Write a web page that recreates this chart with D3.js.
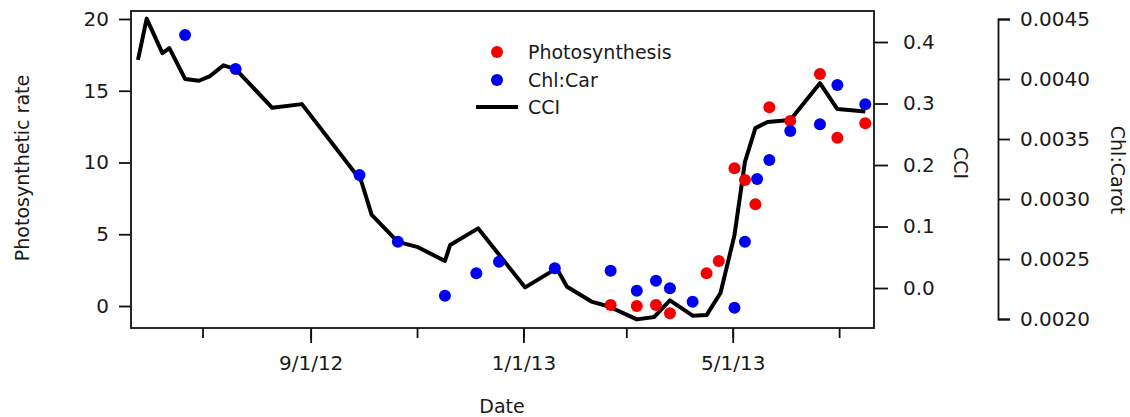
<!DOCTYPE html>
<html>
<head>
<meta charset="utf-8">
<script src="https://cdn.jsdelivr.net/npm/d3@7"></script>
<style>
  body { margin: 0; background: #fff; }
  svg text { font-family: "DejaVu Sans", sans-serif; fill: #1a1a1a; }
</style>
</head>
<body>
<div class="chart"></div>
<script>
'use strict';

// CCI (black line)
var cciDates = ['2012-05-25','2012-05-30','2012-06-08','2012-06-12','2012-06-21','2012-06-29',
  '2012-07-05','2012-07-13','2012-07-20','2012-08-10','2012-08-27','2012-09-30','2012-10-06',
  '2012-10-21','2012-11-01','2012-11-17','2012-11-20','2012-12-06','2013-01-02','2013-01-20',
  '2013-01-26','2013-02-09','2013-02-19','2013-03-07','2013-03-17','2013-03-26','2013-04-08',
  '2013-04-16','2013-04-24','2013-05-02','2013-05-08','2013-05-14','2013-05-21','2013-06-03',
  '2013-06-20','2013-06-30','2013-07-16'];
var cciValues = [0.371, 0.438, 0.382, 0.390, 0.340, 0.337,
  0.344, 0.362, 0.356, 0.293, 0.299, 0.174, 0.119,
  0.075, 0.067, 0.044, 0.070, 0.097, 0.001, 0.032,
  0.002, -0.022, -0.030, -0.051, -0.047, -0.020, -0.045,
  -0.044, -0.008, 0.086, 0.205, 0.260, 0.270, 0.273,
  0.333, 0.291, 0.287];

// Photosynthesis (red dots)
var photoDates = ['2013-02-20','2013-03-07','2013-03-18','2013-03-26','2013-04-16','2013-04-23',
  '2013-05-02','2013-05-08','2013-05-14','2013-05-22','2013-06-03','2013-06-20','2013-06-30','2013-07-16'];
var photoValues = [0.07, 0.0, 0.07, -0.51, 2.28, 3.14,
  9.6, 8.78, 7.09, 13.85, 12.9, 16.17, 11.73, 12.73];

// Chl:Car (blue dots)
var chlDates = ['2012-06-21','2012-07-20','2012-09-29','2012-10-21','2012-11-17','2012-12-05',
  '2012-12-18','2013-01-19','2013-02-20','2013-03-07','2013-03-18','2013-03-26','2013-04-08',
  '2013-05-02','2013-05-08','2013-05-15','2013-05-22','2013-06-03','2013-06-20','2013-06-30','2013-07-16'];
var chlValues = [0.004367, 0.004083, 0.003200, 0.002644, 0.002194, 0.002381,
  0.002478, 0.002423, 0.002403, 0.002236, 0.002319, 0.002256, 0.002144,
  0.002094, 0.002644, 0.003167, 0.003325, 0.003567, 0.003623, 0.003950, 0.003789];

var minorTicks = ['2012-07-01','2012-09-01','2012-11-01','2013-01-01','2013-03-01','2013-05-01','2013-07-01'];
var majorTicks = ['2012-09-01','2013-01-01','2013-05-01'];
var photoTicks = [0, 5, 10, 15, 20];
var cciTicks = [0.0, 0.1, 0.2, 0.3, 0.4];
var chlTicks = [0.0020, 0.0025, 0.0030, 0.0035, 0.0040, 0.0045];

var legendItems = ['Photosynthesis', 'Chl:Car', 'CCI'];

var parseDate = d3.timeParse('%Y-%m-%d');

var width = 1130, height = 417;
var plot = {x0: 131, x1: 874, y0: 11, y1: 328};

var svg = d3.select('.chart').append('svg')
  .attr('width', width)
  .attr('height', height);

var x = d3.scaleTime()
  .domain([new Date(2012, 4, 21), new Date(2013, 6, 21)])
  .range([plot.x0, plot.x1]);

var yPhoto = d3.scaleLinear().domain([-1.533, 20.557]).range([plot.y1, plot.y0]);
var yCci = d3.scaleLinear().domain([-0.065, 0.4504]).range([plot.y1, plot.y0]);
var yChl = d3.scaleLinear().domain([0.0020, 0.0045]).range([319, 19]);

var styleAxis = function(g) {
  g.selectAll('.tick line').attr('stroke', '#111').attr('stroke-width', 1.8);
  g.selectAll('.tick text').attr('font-size', 20).attr('fill', '#1a1a1a')
    .style('font-family', '"DejaVu Sans", sans-serif');
};

// bottom axis: minor then major ticks
svg.append('g')
  .attr('transform', 'translate(0,' + plot.y1 + ')')
  .call(d3.axisBottom(x).tickValues(minorTicks.map(parseDate)).tickSize(10).tickFormat(''))
  .call(function(g) { g.select('.domain').remove(); })
  .call(styleAxis);

svg.append('g')
  .attr('transform', 'translate(0,' + plot.y1 + ')')
  .call(d3.axisBottom(x).tickValues(majorTicks.map(parseDate)).tickSize(15).tickPadding(13)
    .tickFormat(d3.timeFormat('%-m/%-d/%y')))
  .call(function(g) { g.select('.domain').remove(); })
  .call(styleAxis);

// left axis
svg.append('g')
  .attr('transform', 'translate(' + plot.x0 + ',0)')
  .call(d3.axisLeft(yPhoto).tickValues(photoTicks).tickSize(12).tickPadding(10))
  .call(function(g) { g.select('.domain').remove(); })
  .call(styleAxis);

// CCI axis
svg.append('g')
  .attr('transform', 'translate(' + plot.x1 + ',0)')
  .call(d3.axisRight(yCci).tickValues(cciTicks).tickSize(14).tickPadding(15).tickFormat(d3.format('.1f')))
  .call(function(g) { g.select('.domain').remove(); })
  .call(styleAxis);

// Chl:Carot axis (free standing)
svg.append('g')
  .attr('transform', 'translate(998,0)')
  .call(d3.axisRight(yChl).tickValues(chlTicks).tickSize(12).tickPadding(10).tickFormat(d3.format('.4f')))
  .call(function(g) { g.select('.domain').attr('stroke', '#111').attr('stroke-width', 1.8); })
  .call(styleAxis);

// frame
svg.append('rect')
  .attr('x', plot.x0)
  .attr('y', plot.y0)
  .attr('width', plot.x1 - plot.x0)
  .attr('height', plot.y1 - plot.y0)
  .attr('fill', 'none')
  .attr('stroke', '#111')
  .attr('stroke-width', 1.8);

// CCI line
var cci = cciDates.map(function(d, i) { return {date: parseDate(d), value: cciValues[i]}; });
svg.append('path')
  .datum(cci)
  .attr('fill', 'none')
  .attr('stroke', '#000')
  .attr('stroke-width', 4)
  .attr('stroke-linejoin', 'round')
  .attr('d', d3.line()
    .x(function(d) { return x(d.date); })
    .y(function(d) { return yCci(d.value); }));

// photosynthesis dots
svg.append('g').selectAll('circle')
  .data(photoDates.map(function(d, i) { return {date: parseDate(d), value: photoValues[i]}; }))
  .join('circle')
    .attr('cx', function(d) { return x(d.date); })
    .attr('cy', function(d) { return yPhoto(d.value); })
    .attr('r', 6)
    .attr('fill', '#f50000');

// chl:car dots
svg.append('g').selectAll('circle')
  .data(chlDates.map(function(d, i) { return {date: parseDate(d), value: chlValues[i]}; }))
  .join('circle')
    .attr('cx', function(d) { return x(d.date); })
    .attr('cy', function(d) { return yChl(d.value); })
    .attr('r', 6)
    .attr('fill', '#0000f0');

// legend
var legend = svg.append('g').attr('transform', 'translate(497,52)');
legend.append('circle').attr('cx', 0).attr('cy', 0).attr('r', 6).attr('fill', '#f50000');
legend.append('circle').attr('cx', 0).attr('cy', 28).attr('r', 6).attr('fill', '#0000f0');
legend.append('line').attr('x1', -21).attr('x2', 21).attr('y1', 55).attr('y2', 55)
  .attr('stroke', '#000').attr('stroke-width', 4);
legend.selectAll('text')
  .data(legendItems)
  .join('text')
    .attr('x', 31)
    .attr('y', function(d, i) { return [0, 28, 55][i]; })
    .attr('dy', '0.35em')
    .attr('font-size', 19)
    .text(function(d) { return d; });

// axis titles
svg.append('text')
  .attr('transform', 'translate(22,168) rotate(-90)')
  .attr('text-anchor', 'middle')
  .attr('dy', '0.35em')
  .attr('font-size', 19)
  .text('Photosynthetic rate');

svg.append('text')
  .attr('transform', 'translate(961,163) rotate(90)')
  .attr('text-anchor', 'middle')
  .attr('dy', '0.35em')
  .attr('font-size', 19)
  .text('CCI');

svg.append('text')
  .attr('transform', 'translate(1118,170) rotate(90)')
  .attr('text-anchor', 'middle')
  .attr('dy', '0.35em')
  .attr('font-size', 19)
  .text('Chl:Carot');

svg.append('text')
  .attr('x', 502)
  .attr('y', 406)
  .attr('text-anchor', 'middle')
  .attr('dy', '0.35em')
  .attr('font-size', 19)
  .text('Date');
</script>
</body>
</html>
